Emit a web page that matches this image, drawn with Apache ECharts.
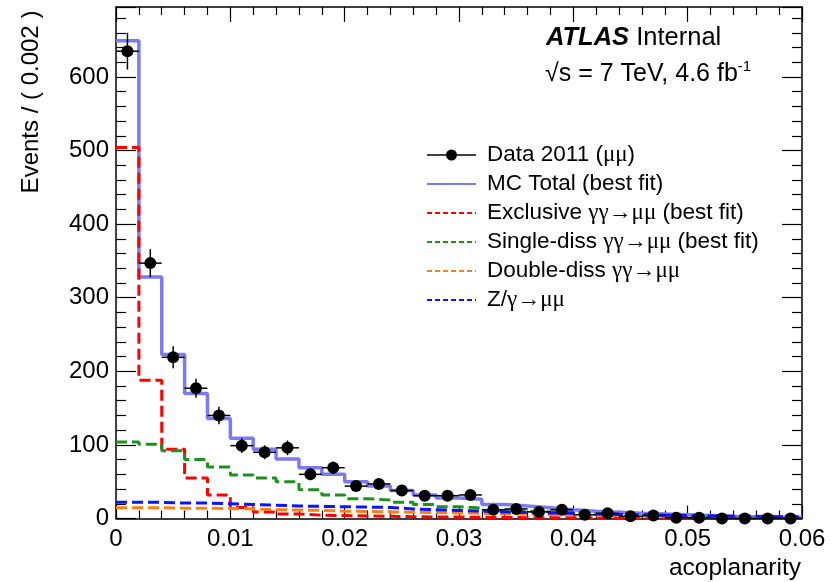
<!DOCTYPE html>
<html><head><meta charset="utf-8">
<script src="https://cdn.jsdelivr.net/npm/echarts@6/dist/echarts.min.js"></script>
<style>html,body{margin:0;padding:0;background:#fff}#c{width:836px;height:582px}</style>
</head><body><div id="c"></div>
<script>
// ---- data ----
const binEdges = [0, 0.002, 0.004, 0.006, 0.008, 0.010, 0.012, 0.014, 0.016, 0.018, 0.020,
  0.022, 0.024, 0.026, 0.028, 0.030, 0.032, 0.034, 0.036, 0.038, 0.040,
  0.042, 0.044, 0.046, 0.048, 0.050, 0.052, 0.054, 0.056, 0.058, 0.060];
const dataCounts = [635, 347, 219, 177, 140, 99, 90, 96, 60, 69, 44, 47, 38, 31, 31, 32, 12, 13, 9, 12, 5, 7, 3, 4, 1, 1, 0, 0, 0, 0];
const dataErrors = [25, 19, 15, 13, 12, 10, 9.5, 10, 8, 8.5, 6.5, 7, 6, 5.5, 5.5, 5.5, 3.5, 3.5, 3, 3.5, 2.2, 2.6, 1.7, 2, 1, 1, 0, 0, 0, 0];
const mcTotal = [649, 328, 223, 170, 136, 109, 94, 81, 69, 60, 50, 44, 38, 32, 28, 26, 19, 17, 14.5, 12, 10, 8.5, 7, 6, 5, 4, 3, 2.5, 2, 1.5];
const exclusive = [504, 188, 94, 55, 32, 15, 9, 6, 4.5, 4, 3.5, 3, 2.5, 2, 2, 1.5, 1.5, 1, 1, 1, 0.8, 0.6, 0.5, 0.4, 0.3, 0.3, 0.2, 0.2, 0.1, 0.1];
const singleDiss = [104, 101, 92, 80, 70, 59, 55, 50, 39, 32, 27, 25, 22, 19, 16, 14, 11, 10, 9, 8, 6, 5, 4, 3.5, 3, 2.5, 2, 1.5, 1.2, 1];
const doubleDiss = [14.5, 14.5, 14, 14, 13.5, 13, 12, 11.5, 11, 10, 9.5, 9, 8.5, 8, 7.5, 7, 6.5, 6, 5.5, 5, 4.5, 4, 3.5, 3.2, 3, 2.7, 2.5, 2.2, 2, 1.8];
const zGamma = [22, 22, 21, 21, 20, 19, 18, 17, 16.5, 16, 15.5, 15, 13, 12, 11, 10, 9, 8, 7.5, 7, 6, 5.5, 5, 4.5, 4, 3.5, 3, 3, 2.5, 2.5];
const xRange = [0, 0.06];
const xStep = 0.01;
const yRange = [0, 695];
const yStep = 100;

// ---- build ----
const FONT = 'Liberation Sans, Arial, Helvetica, sans-serif';
const GREEK = 'Liberation Serif, DejaVu Serif, serif';
function stepData(vals) {
  return binEdges.map((e, i) => [e, vals[Math.min(i, vals.length - 1)]]);
}
const pointData = dataCounts.map((v, i) => {
  const c = (binEdges[i] + binEdges[i + 1]) / 2;
  const hw = (binEdges[i + 1] - binEdges[i]) / 2;
  return [c, v, dataErrors[i], hw];
});

function histSeries(name, vals, color, dashed, width, z) {
  return {
    name, type: 'line', step: 'end', data: stepData(vals), showSymbol: false, symbol: 'none',
    lineStyle: { color, width, type: dashed ? [11, 5] : 'solid' },
    z, silent: true, animation: false, clip: true
  };
}

const axisLineStyle = { color: '#000', width: 1.5 };
function xAxisCfg(pos, showLabel, majorLen, minorLen) {
  return {
    type: 'value', position: pos, min: xRange[0], max: xRange[1], interval: xStep,
    axisLine: { show: true, onZero: false, lineStyle: axisLineStyle },
    axisTick: { show: true, inside: true, length: majorLen, lineStyle: { color: '#000', width: 1.2 } },
    minorTick: { show: true, splitNumber: 5, length: minorLen, lineStyle: { color: '#000', width: 1.2 } },
    splitLine: { show: false },
    axisLabel: {
      show: showLabel, fontSize: 24, color: '#000', fontFamily: FONT, margin: 9,
      formatter: v => (v === 0 ? '0' : (+v.toFixed(3)).toString())
    }
  };
}
function yAxisCfg(pos, showLabel) {
  return {
    type: 'value', position: pos, min: yRange[0], max: yRange[1], interval: yStep,
    axisLine: { show: true, onZero: false, lineStyle: axisLineStyle },
    axisTick: { show: true, inside: true, length: 20, lineStyle: { color: '#000', width: 1.2 } },
    minorTick: { show: true, splitNumber: 5, length: 10, lineStyle: { color: '#000', width: 1.2 } },
    splitLine: { show: false },
    axisLabel: { show: showLabel, fontSize: 24, color: '#000', fontFamily: FONT, margin: 7, showMaxLabel: false }
  };
}

const legendItems = [
  { label: '{t|Data 2011 (}{g|μμ}{t|)}', color: '#000', kind: 'data' },
  { label: '{t|MC Total (best fit)}', color: '#7b7bef', kind: 'solid' },
  { label: '{t|Exclusive }{g|γγ→μμ}{t| (best fit)}', color: '#ff0000', kind: 'dash' },
  { label: '{t|Single-diss }{g|γγ→μμ}{t| (best fit)}', color: '#1f8f1f', kind: 'dash' },
  { label: '{t|Double-diss }{g|γγ→μμ}', color: '#ff8010', kind: 'dash' },
  { label: '{t|Z/}{g|γ→μμ}', color: '#0a14ff', kind: 'dash' }
];
const legendY = [155, 184, 213, 242, 271, 300];
const graphics = [];
legendItems.forEach((it, i) => {
  const y = legendY[i];
  graphics.push({
    type: 'line', shape: { x1: 427, y1: y, x2: 476, y2: y },
    style: { stroke: it.color, lineWidth: it.kind === 'data' ? 1.3 : 2, lineDash: it.kind === 'dash' ? [5, 3] : null }
  });
  if (it.kind === 'data') graphics.push({ type: 'circle', shape: { cx: 451.5, cy: y, r: 5.5 }, style: { fill: '#000' } });
  graphics.push({
    type: 'text', x: 487, y: y,
    style: {
      text: it.label, verticalAlign: 'middle', align: 'left',
      rich: { t: { fontSize: 22.5, fontFamily: FONT, fill: '#000' }, g: { fontSize: 23, fontFamily: GREEK, fill: '#000' } }
    }
  });
});
graphics.push({
  type: 'text', x: 546, y: 38,
  style: {
    text: '{b|ATLAS}{n| Internal}', verticalAlign: 'middle', align: 'left',
    rich: { b: { fontSize: 25.5, fontWeight: 'bold', fontStyle: 'italic', fontFamily: FONT, fill: '#000' },
            n: { fontSize: 25.5, fontFamily: FONT, fill: '#000' } }
  }
});
graphics.push({
  type: 'text', x: 545, y: 74,
  style: {
    text: '{n|√s = 7 TeV, 4.6 fb}{s|-1}', verticalAlign: 'middle', align: 'left',
    rich: { n: { fontSize: 25, fontFamily: FONT, fill: '#000' },
            s: { fontSize: 15, fontFamily: FONT, fill: '#000', verticalAlign: 'top', padding: [0, 0, 15, 0] } }
  }
});
graphics.push({
  type: 'text', x: 31, y: 102, rotation: Math.PI / 2,
  style: { text: 'Events / ( 0.002 )', fontSize: 24, fontFamily: FONT, fill: '#000', align: 'center', verticalAlign: 'middle' }
});
graphics.push({
  type: 'text', x: 801, y: 568,
  style: { text: 'acoplanarity', fontSize: 24.5, fontFamily: FONT, fill: '#000', align: 'right', verticalAlign: 'middle' }
});

const chart = echarts.init(document.getElementById('c'), null, { renderer: 'canvas' });
chart.setOption({
  animation: false,
  backgroundColor: '#fff',
  grid: { left: 116, right: 34, top: 7, bottom: 63.5, containLabel: false },
  xAxis: [xAxisCfg('bottom', true, 13, 8), xAxisCfg('top', false, 15, 8)],
  yAxis: [yAxisCfg('left', true), yAxisCfg('right', false)],
  series: [
    histSeries('MC Total (best fit)', mcTotal, '#7b7bef', false, 3.5, 2),
    histSeries('Exclusive', exclusive, '#ff0000', true, 3, 3),
    histSeries('Single-diss', singleDiss, '#1f8f1f', true, 3, 3),
    histSeries('Double-diss', doubleDiss, '#ff8010', true, 3, 3),
    histSeries('Z/gamma', zGamma, '#0a14ff', true, 3, 3),
    {
      name: 'Data errors', type: 'custom', data: pointData, z: 5, silent: true,
      renderItem: (params, api) => {
        const x = api.value(0), y = api.value(1), e = api.value(2), hw = api.value(3);
        const top = api.coord([x, y + e]), bot = api.coord([x, Math.max(0, y - e)]);
        const l = api.coord([x - hw, y]), r = api.coord([x + hw, y]);
        const ch = [{ type: 'line', shape: { x1: l[0], y1: l[1], x2: r[0], y2: r[1] }, style: { stroke: '#000', lineWidth: 1.5 } }];
        if (e > 0) ch.push({ type: 'line', shape: { x1: top[0], y1: top[1], x2: bot[0], y2: bot[1] }, style: { stroke: '#000', lineWidth: 1.5 } });
        return { type: 'group', children: ch };
      }
    },
    {
      name: 'Data 2011', type: 'scatter', data: pointData.map(p => [p[0], p[1]]),
      symbol: 'circle', symbolSize: 12, itemStyle: { color: '#000', opacity: 1 }, z: 6, silent: true
    }
  ],
  graphic: graphics
});
</script>
</body></html>
